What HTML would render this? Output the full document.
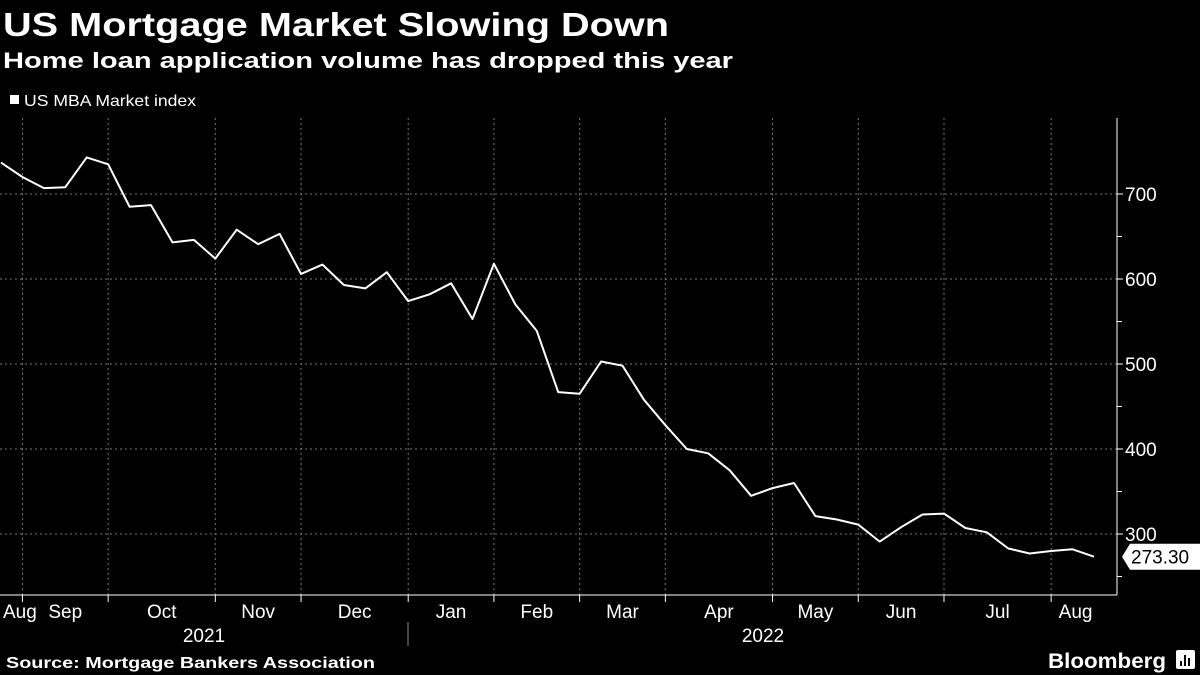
<!DOCTYPE html>
<html><head><meta charset="utf-8"><style>
html,body{margin:0;padding:0;background:#000;}
svg{display:block;font-family:"Liberation Sans",sans-serif;}
</style></head><body>
<svg id="chart" width="1200" height="675" viewBox="0 0 1200 675">
<text x="3" y="36" fill="#fff" font-size="33" font-weight="bold" textLength="666" lengthAdjust="spacingAndGlyphs">US Mortgage Market Slowing Down</text>
<text x="3" y="68" fill="#fff" font-size="22" font-weight="bold" textLength="730" lengthAdjust="spacingAndGlyphs">Home loan application volume has dropped this year</text>
<rect x="10" y="95" width="9" height="9" fill="#fff"/>
<text x="24" y="106" fill="#fff" font-size="16" textLength="172" lengthAdjust="spacingAndGlyphs">US MBA Market index</text>
<g id="grid"></g>
<g id="axes"></g>
<g id="series"></g>
<text x="6" y="668" fill="#fff" font-size="16" font-weight="bold" textLength="369" lengthAdjust="spacingAndGlyphs">Source: Mortgage Bankers Association</text>
<text x="1048" y="668" fill="#fff" font-size="21" font-weight="bold" textLength="118" lengthAdjust="spacingAndGlyphs">Bloomberg</text>
<g><rect x="1176" y="650" width="19" height="19" rx="2" fill="#fff"/><rect x="1180" y="661" width="2" height="5" fill="#000"/><rect x="1184" y="655" width="2" height="11" fill="#000"/><rect x="1188" y="658" width="2" height="8" fill="#000"/></g>
</svg>
<script>
const values=[737,720,707,708,743,735,685,687,643,646,624,658,641,653,606,617,593,589,608,574,582,595,553,618,570,539,467,465,503,498,458,428,400,395,375,345,354,360,321,317,311,291,308,323,324,307,302,283,277,280,282,273.3];
const yTicks=[300,400,500,600,700];
const yMinorTicks=[250,350,450,550,650];
const monthTickIdx=[1,5,10,14,19,23,27,31,36,40,44,49];
const monthLabels=["Aug","Sep","Oct","Nov","Dec","Jan","Feb","Mar","Apr","May","Jun","Jul","Aug"];
const yearLabels=["2021","2022"];
const lastLabel="273.30";

const NS="http://www.w3.org/2000/svg";
const X0=1,X1=1094,PR=1117,PT=118,PB=595;
const xs=i=>X0+i*(X1-X0)/(values.length-1);
const ys=v=>534-(v-300)*0.85;
function mk(tag,attrs,parent){const e=document.createElementNS(NS,tag);for(const k in attrs)e.setAttribute(k,attrs[k]);parent.appendChild(e);return e;}
const grid=document.getElementById('grid'),axes=document.getElementById('axes'),series=document.getElementById('series');

yTicks.forEach(v=>{
 const l=mk('line',{x1:0,x2:PR,y1:ys(v),y2:ys(v),stroke:'#777','stroke-width':1,'stroke-dasharray':'2,3'},grid);
 
 
 const t=mk('line',{x1:PR,x2:PR+6,y1:ys(v),y2:ys(v),stroke:'#fff'},axes);
 
 
 const tx=mk('text',{x:PR+8,y:ys(v)+7,fill:'#fff','font-size':19},axes);
 tx.textContent=v;
 
 
});
yMinorTicks.forEach(v=>{
 const t=mk('line',{x1:PR,x2:PR+5,y1:ys(v),y2:ys(v),stroke:'#fff'},axes);
 
 
});
monthTickIdx.forEach(i=>{
 const l=mk('line',{x1:xs(i),x2:xs(i),y1:PT,y2:PB,stroke:'#777','stroke-width':1,'stroke-dasharray':'2,3'},grid);
 
 
 const t=mk('line',{x1:xs(i),x2:xs(i),y1:PB,y2:PB+7,stroke:'#fff'},axes);
 
 
});
const bounds=[0].concat(monthTickIdx.map(xs)).concat([X1+6]);
monthLabels.forEach((m,k)=>{
 let cx=(bounds[k]+bounds[k+1])/2;
 const tx=mk('text',{x:k===0?3:cx,y:618,fill:'#fff','font-size':19,'text-anchor':k===0?'start':'middle'},axes);
 tx.textContent=m;
 
 
});
const yr1=mk('text',{x:204,y:642,fill:'#fff','font-size':19,'text-anchor':'middle'},axes);
yr1.textContent=yearLabels[0];


const yr2=mk('text',{x:763,y:642,fill:'#fff','font-size':19,'text-anchor':'middle'},axes);
yr2.textContent=yearLabels[1];


const sep=mk('line',{x1:408,x2:408,y1:622,y2:646,stroke:'#888'},axes);


const ax=mk('line',{x1:0,x2:PR,y1:PB,y2:PB,stroke:'#fff'},axes);


const ay=mk('line',{x1:PR,x2:PR,y1:PT,y2:PB,stroke:'#fff'},axes);



const d=values.map((v,i)=>(i?'L':'M')+xs(i).toFixed(1)+' '+ys(v).toFixed(1)).join(' ');
const p=mk('path',{d:d,fill:'none',stroke:'#fff','stroke-width':2,'stroke-linejoin':'round'},series);



const ly=ys(values[values.length-1]);
const tag=mk('path',{d:`M1122 ${ly} L1130 ${ly-13} L1200 ${ly-13} L1200 ${ly+13} L1130 ${ly+13} Z`,fill:'#fff'},series);


const lt=mk('text',{x:1131,y:ly+7,fill:'#000','font-size':19},series);
lt.textContent=lastLabel;


</script>
</body></html>
